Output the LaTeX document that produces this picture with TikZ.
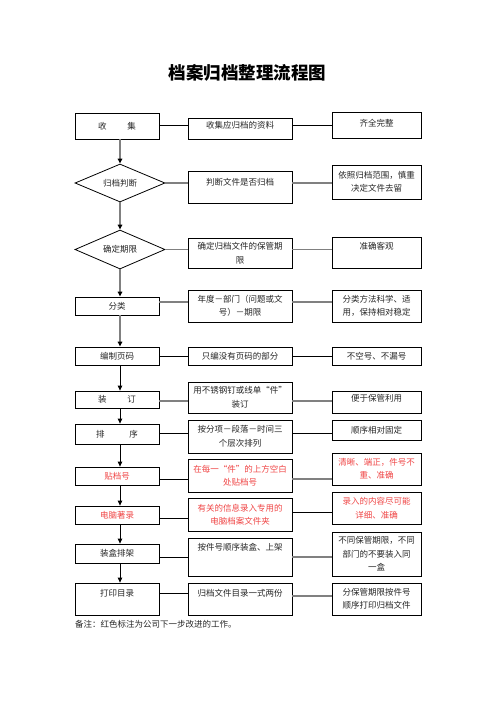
\documentclass[tikz,border=0pt]{standalone}
\usepackage{fontspec}
\setmainfont{Noto Sans CJK SC}
\usetikzlibrary{shapes.geometric,arrows.meta}
\definecolor{redtxt}{RGB}{240,70,70}
\definecolor{lgray}{RGB}{128,128,128}
\tikzset{
  txt/.style={font=\fontsize{8.5}{13.5}\selectfont, text=black!85},
  box/.style={txt, draw=black, line width=0.8pt, inner sep=0pt, align=center},
  diam/.style={txt, diamond, draw=black, line width=0.8pt, inner sep=0pt, shape aspect=2.3},
  redbox/.style={text=redtxt},
  topal/.style 2 args={text height=#1pt, text depth=#2pt},
  gline/.style={draw=lgray, line width=1.8pt},
  bline/.style={draw=black, line width=0.8pt},
  garr/.style={gline, -{Triangle[width=4.5pt,length=5pt,color=black]}},
  barr/.style={bline, -{Triangle[width=4.5pt,length=5pt]}}
}
\newcommand\bx[7][]{\node[box,minimum width={(#5-#3)*1pt},minimum height={(#6-#4)*1pt},#1] (#2) at ({(#3+#5)/2},{(#4+#6)/2}) {#7};}
\begin{document}
\begin{tikzpicture}[x=1pt,y=-1pt]
\fill[white] (0,0) rectangle (496,702);
\useasboundingbox (0,0) rectangle (496,702);
% title
\node[font=\fontsize{17.5}{20}\selectfont\bfseries] (title) at (247.5,73) {档案归档整理流程图};
% left column
\bx{L1}{75}{113}{159}{139}{收\hspace{21pt}集}
\node[diam, minimum width=90pt, minimum height=38pt] (L2) at (120,183) {归档判断};
\node[diam, minimum width=90pt, minimum height=39pt] (L3) at (120,249.5) {确定期限};
\bx{L4}{75}{297}{159}{315}{分类}
\bx{L5}{75}{347}{159}{365}{编制页码}
\bx{L6}{75}{391}{159}{408}{装\hspace{21pt}订}
\bx{L7}{75}{424}{159}{444}{排\hspace{25pt}序}
\bx[redbox]{L8}{75}{467}{159}{485}{贴档号}
\bx[redbox]{L9}{75}{506}{159}{524}{电脑著录}
\bx{L10}{75}{544}{159}{563}{装盒排架}
\bx[topal={13.2}{18.8}]{L11}{75}{583}{159}{615}{打印目录}
% middle column
\bx[topal={10.2}{10.8}]{M1}{188}{118}{292}{139}{收集应归档的资料}
\bx[topal={14.2}{17.8}]{M2}{188}{171}{292}{203}{判断文件是否归档}
\bx{M3}{188}{238}{292}{268}{确定归档文件的保管期\\限}
\bx{M4}{188}{290}{292}{322}{年度－部门（问题或文\\号）－期限}
\bx{M5}{188}{347}{292}{365}{只编没有页码的部分}
\bx{M6}{188}{382}{292}{413}{用不锈钢钉或线单“件”\\装订}
\bx{M7}{188}{420}{292}{453}{按分项－段落－时间三\\个层次排列}
\bx[redbox]{M8}{188}{459}{292}{492}{在每一“件”的上方空白\\处贴档号}
\bx[redbox]{M9}{188}{498}{292}{531}{有关的信息录入专用的\\电脑档案文件夹}
\bx[topal={12.2}{25.8}]{M10}{188}{538}{292}{576}{按件号顺序装盒、上架}
\bx[topal={13.2}{18.8}]{M11}{188}{583}{292}{615}{归档文件目录一式两份}
% right column
\bx[topal={14.2}{11.8}]{R1}{332}{112}{421}{138}{齐全完整}
\bx{R2}{332}{165}{421}{199}{依照归档范围，慎重\\决定文件去留}
\bx[topal={12.2}{18.8}]{R3}{332}{237}{421}{268}{准确客观}
\bx{R4}{332}{290}{421}{322}{分类方法科学、适\\用，保持相对稳定}
\bx{R5}{332}{347}{421}{365}{不空号、不漏号}
\bx[topal={10.2}{11.8}]{R6}{332}{391}{421}{413}{便于保管利用}
\bx{R7}{332}{420}{421}{440}{顺序相对固定}
\bx[redbox]{R8}{332}{453}{421}{485}{清晰、端正，件号不\\重、准确}
\bx[redbox]{R9}{332}{492}{421}{524}{录入的内容尽可能\\详细、准确}
\bx{R10}{332}{532}{421}{576}{不同保管期限，不同\\部门的不要装入同\\一盒}
\bx{R11}{332}{583}{421}{615}{分保管期限按件号\\顺序打印归档文件}
% note
\node[txt, anchor=west, inner sep=0pt] (note) at (75,624) {备注：红色标注为公司下一步改进的工作。};
% vertical arrows
\coordinate (ax) at (120,0);
\draw[garr] (L1.south -| ax) -- (L2.north);
\draw[garr] (L2.south) -- (L3.north);
\draw[garr] (L3.south) -- (L4.north -| ax);
\draw[garr] (L4.south -| ax) -- (L5.north -| ax);
\draw[barr] (L5.south -| ax) -- (L6.north -| ax);
\draw[barr] (L6.south -| ax) -- (L7.north -| ax);
\draw[barr] (L7.south -| ax) -- (L8.north -| ax);
\draw[barr] (L8.south -| ax) -- (L9.north -| ax);
\draw[barr] (L9.south -| ax) -- (L10.north -| ax);
\draw[barr] (L10.south -| ax) -- (L11.north -| ax);
% horizontal connectors
\coordinate (h1) at (0,125);
\coordinate (h4) at (0,302);
\coordinate (h5) at (0,356);
\coordinate (h6) at (0,401);
\coordinate (h7) at (0,433);
\coordinate (h8) at (0,479);
\coordinate (h9a) at (0,518);
\coordinate (h9b) at (0,512);
\coordinate (h10) at (0,557);
\coordinate (h11a) at (0,593);
\coordinate (h11b) at (0,596);
\draw[bline] (L1.east |- h1) -- (M1.west |- h1);
\draw[bline] (M1.east |- h1) -- (R1.west |- h1);
\draw[gline] (L2.east) -- (M2.west |- L2.east);
\draw[gline] (M2.east |- L2.east) -- (R2.west |- L2.east);
\draw[gline] (L3.east) -- (M3.west |- L3.east);
\draw[gline] (M3.east |- L3.east) -- (R3.west |- L3.east);
\draw[gline] (L4.east |- h4) -- (M4.west |- h4);
\draw[gline] (M4.east |- h4) -- (R4.west |- h4);
\draw[bline] (L5.east |- h5) -- (M5.west |- h5);
\draw[bline] (M5.east |- h5) -- (R5.west |- h5);
\draw[gline] (L6.east |- h6) -- (M6.west |- h6);
\draw[gline] (M6.east |- h6) -- (R6.west |- h6);
\draw[bline] (L7.east |- h7) -- (M7.west |- h7);
\draw[bline] (M7.east |- h7) -- (R7.west |- h7);
\draw[bline] (L8.east |- h8) -- (M8.west |- h8);
\draw[gline] (M8.east |- h8) -- (R8.west |- h8);
\draw[bline] (L9.east |- h9a) -- (M9.west |- h9a);
\draw[bline] (M9.east |- h9b) -- (R9.west |- h9b);
\draw[bline] (L10.east |- h10) -- (M10.west |- h10);
\draw[gline] (M10.east |- h10) -- (R10.west |- h10);
\draw[bline] (L11.east |- h11a) -- (M11.west |- h11a);
\draw[gline] (M11.east |- h11b) -- (R11.west |- h11b);
\end{tikzpicture}
\end{document}
